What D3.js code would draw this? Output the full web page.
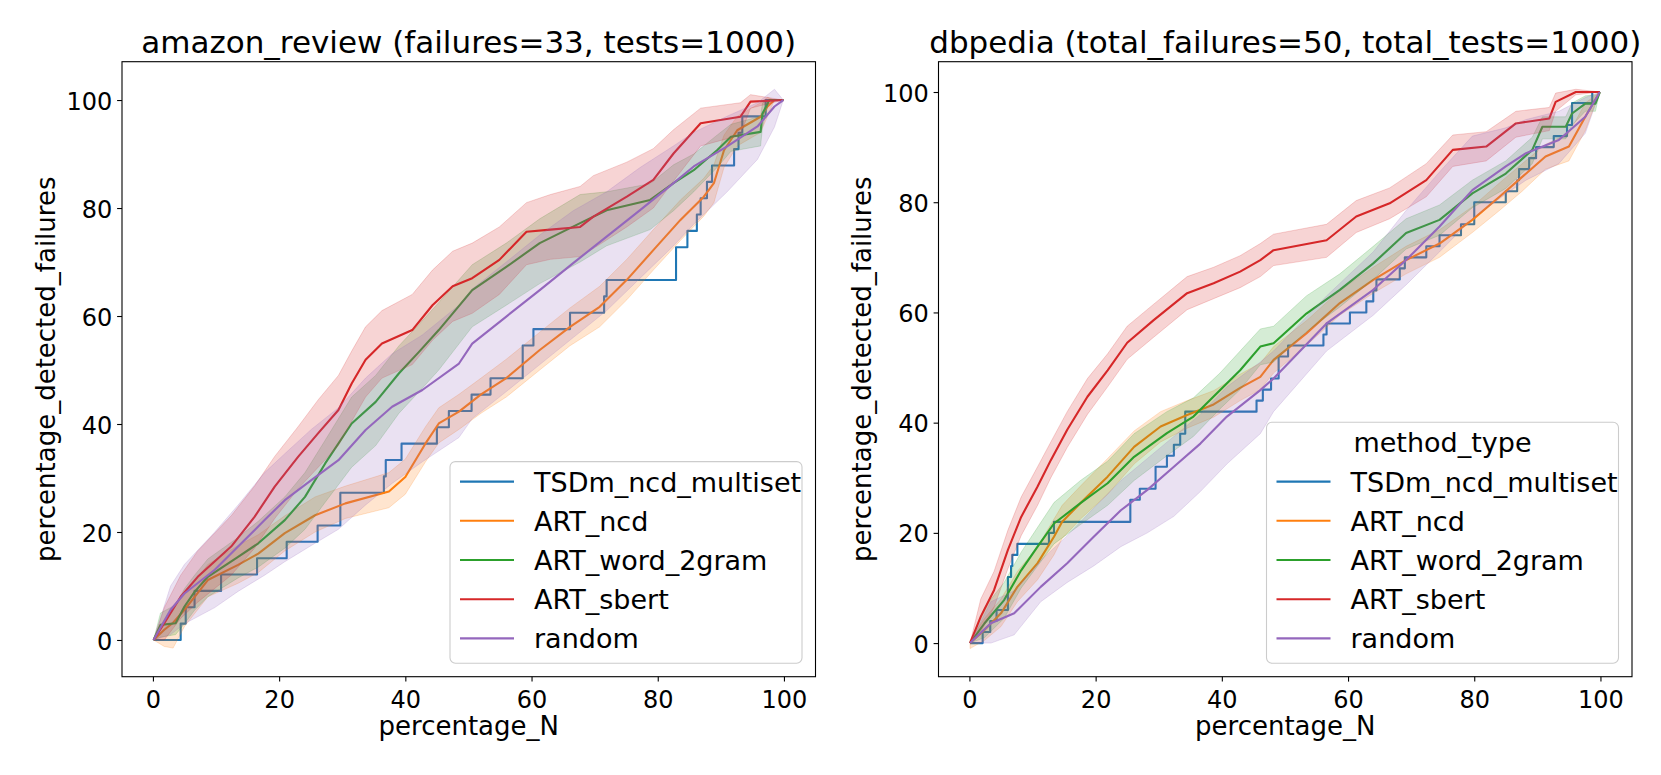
<!DOCTYPE html>
<html>
<head>
<meta charset="utf-8">
<script src="https://cdn.jsdelivr.net/npm/d3@7"></script>
<style>
  body { margin: 0; background: #fff; }
  text { font-family: "DejaVu Sans", sans-serif; fill: #000; }
</style>
</head>
<body>
<svg id="chart" width="1661" height="775"></svg>
<script>
// method names and tab10 colours, in seaborn hue order
const methods = ["TSDm_ncd_multiset", "ART_ncd", "ART_word_2gram", "ART_sbert", "random"];
const colors = ["#1f77b4", "#ff7f0e", "#2ca02c", "#d62728", "#9467bd"];
const xTicks = [0, 20, 40, 60, 80, 100];
const yTicks = [0, 20, 40, 60, 80, 100];

// ---- amazon_review ----
// TSDm is a single run: [x where the value changes, new value]
const amazonTSDm = [[0.1,0],[4.4,3.03],[5.2,6.06],[6.6,9.09],[10.8,12.12],[16.5,15.15],[21.2,18.18],[26.1,21.21],
  [29.7,27.27],[36.6,30.3],[36.9,33.33],[39.4,36.36],[45.0,39.39],[46.9,42.42],[50.5,45.45],[53.5,48.48],
  [58.6,54.55],[60.3,57.58],[66.1,60.61],[71.5,63.64],[71.9,66.67],[82.9,72.73],[84.7,75.76],[86.2,78.79],
  [86.8,81.82],[87.8,84.85],[88.6,87.88],[92.1,90.91],[92.8,93.94],[93.4,96.97],[97.1,100],[99.9,100]];
// [x, mean, lower, upper]
const amazonNcd = [[0.1,0,0,0],[1.8,1.9,-1.2,3.8],[3.2,3.2,-1.5,6],[5.0,5.6,2.5,8.5],[8.7,11.1,8,14],[13.5,13.9,10.5,17.5],
  [16.7,16.0,12.5,19.5],[20.9,19.8,16.5,23],[25.7,23.1,20,26.5],[30.5,25.3,22.5,28.5],[37.4,27.5,24.5,31],
  [40.0,30.2,27,33.5],[43.2,36.4,33,39.5],[45.3,40.1,36.5,43],[48.5,42.3,39,45.5],[52,45.5,42,48.5],
  [56.0,48.5,45,52],[61.3,53.7,50,57],[66.1,58.0,54.5,61.5],[70.8,61.7,58,65.5],[75.1,66.7,63,70.5],
  [79.3,72.2,68.5,76],[83.6,77.8,74,81.5],[87.3,82.1,78.5,85.5],[88.9,84.6,81,88],[90.5,90.7,87.5,93.5],
  [92.6,94.4,91.5,97],[96.3,96.9,94,99.5],[97.4,98.8,97,100.5],[98.5,100,100,100],[99.9,100,100,100]];
const amazonWord = [[0.1,0,0,0],[1.2,2.8,0.5,5],[3.6,3.1,1,6.5],[5.0,6.2,3,9.5],[6.6,8.9,5.5,12],[8.7,11.7,8,15],
  [13.5,15.4,11.5,19],[16.7,17.9,13.5,22],[20.9,22.2,17,26.5],[24.1,26.5,20.5,31],[27.3,32.7,25.5,37],
  [31.5,40.1,32,45],[35.3,44.1,36,49],[39.0,49.4,42,54.5],[42.2,53.4,46,58.5],[45.3,57.4,50,62.5],
  [50.6,64.8,58,69.5],[56.0,69.1,62,73.5],[61.3,73.5,66,78],[67.7,77.2,70,82.5],[71.9,79.6,73,83],
  [78.8,81.5,76,84.5],[82.5,84.6,79.5,88],[85.7,87.0,83,90],[89.4,90.7,87.5,93.5],[91.6,93.2,90.5,95.5],
  [96.3,94.1,91.5,97],[96.6,97.5,95,99.5],[97.7,100,100,100],[99.9,100,100,100]];
const amazonSbert = [[0.1,0,0,0],[1.8,3.1,0,6],[4.4,8.0,4,12],[7.1,11.7,7,16.5],[12.4,17.3,12,23],[16.1,22.8,17,28.5],
  [19.3,28.4,22.5,34],[23.0,33.9,28,39.5],[26.2,38.3,32,44.5],[29.4,42.6,36,49],[31.5,47.5,40.5,53.5],
  [33.7,51.9,45,58],[36.3,54.9,48.5,61],[41.1,57.4,51,64],[44.3,62.0,55.5,68.5],[47.5,65.5,59,72],
  [50.6,67.0,60.5,73.5],[54.9,70.4,64,76.5],[59.2,75.6,69.5,81],[63,76,70.5,82.5],[67.7,76.5,71,84],
  [69.8,78.4,72.5,86],[75.1,82.1,76.5,88.5],[79.3,85.2,80,91],[82.5,90.1,85,94.5],[86.8,95.7,91.5,98.5],
  [93.1,96.9,93.5,99.5],[94.7,99.7,98.5,101],[99.9,100,100,100]];
const amazonRandom = [[0.1,0,0,0],[2.8,5.6,1,10],[5.0,8.6,3,14],[9.8,13.0,6,20],[13.5,17.3,9,25],[17.7,22.2,12,31],
  [20.9,25.9,14.5,34.5],[25.1,29.6,17.5,39],[29.4,33.3,20.5,43],[33.7,38.9,25,48.5],[37.9,43.2,29,53],
  [42.7,46.3,33,56.5],[48.5,51.2,37.5,62],[50.6,54.9,41,65],[56,59.9,46,70],[61.3,64.8,51,75],
  [66.6,69.8,56,79.5],[71.9,74.7,61,83],[77.2,79.6,67,87.5],[82.5,84.6,73,91.5],[85.7,87.7,77,94],
  [91.0,91.4,83,97],[95.8,95.1,89,99.5],[98.5,98.8,95,102],[99.9,100,100,100]];

// ---- dbpedia ----
const dbpediaTSDm = [[0.1,0],[2.1,2],[3.3,4],[4.3,6],[6.1,12],[6.6,14],[6.8,16],[7.6,18],[12.6,20],[13.4,22],
  [25.5,26],[27.0,28],[29.5,32],[31.3,34],[32.4,36],[33.4,38],[34.2,42],[45.5,44],[46.5,46],[47.8,48],
  [49.0,52],[50.5,54],[56.1,56],[56.6,58],[60.3,60],[62.9,62],[64.0,64],[64.5,66],[68.2,68],[69.0,70],
  [72.4,72],[74.5,74],[77.9,76],[80.0,80],[85.0,82],[86.8,84],[87.1,86],[88.7,88],[89.8,90],[92.6,92],
  [94.7,94],[95.5,98],[98.7,100],[99.9,100]];
const dbpediaNcd = [[0.1,0,-1,0.5],[2.4,2.4,0.5,4.5],[5.0,5.4,3,8],[7.6,10.2,7.5,13],[10.8,14.5,11.5,17.5],
  [13.4,19.3,16,22.5],[14.7,22.0,19,25],[17.6,25.4,22.5,28.5],[21.9,30.2,27,33.5],[26.1,35.6,32.5,38.5],
  [30.3,39.3,36.5,42],[34.5,41.4,39,44],[38.7,43.3,41,45.8],[42.9,46.3,44,48.8],[46.1,48.3,46,50.8],
  [48.2,51.4,49,53.8],[53.4,56.2,54,58.5],[58.7,61.7,59.5,64],[64.0,65.9,63.5,68.2],[69.2,69.5,67,72],
  [74.5,72.5,70,75],[79.7,76.8,74.5,79.2],[84.0,81.0,78.5,83.5],[87.6,84.6,82,87],[91.3,88.3,86,90.5],
  [95.0,90.1,87.5,92.5],[97.6,95.5,93,98],[99.9,100,100,100]];
const dbpediaWord = [[0.1,0,0,0],[2.4,3.6,1,6.5],[5.5,7.8,4.5,11],[8.2,13.2,10,16.5],[10.8,17.5,14,21],
  [13.4,21.7,18,25.5],[17.6,25.4,21.5,29.5],[21.9,29.0,25,33],[26.1,33.8,29.5,38],[31.3,38.1,34,42],
  [35.5,41.1,37.5,44.5],[39.7,45.9,42.5,49],[42.9,49.5,46,53],[46.1,53.8,50.5,57],[48.2,54.4,51,57.5],
  [53.4,59.8,56.5,63],[58.7,64.1,61,67],[64.0,68.9,66,72],[69.2,74.4,71.5,77],[74.5,76.8,74,79.5],
  [79.7,81.6,79,84],[85.0,85.2,82.5,87.5],[89.2,89.5,87,91.8],[90.8,93.7,91.5,95.5],[94.5,93.7,91.5,95.5],
  [95.5,96.1,94,98],[97.6,97.9,96.5,99.3],[99.2,97.9,96.5,99.5],[99.9,100,100,100]];
const dbpediaSbert = [[0.1,0,0,0],[1.8,4.8,2,8],[3.9,9.6,6.5,13],[6.1,16.9,13.5,20.5],[8.2,22.9,19.5,26.5],
  [10.8,28.4,25,32],[12.9,33.2,30,36.5],[15.5,38.7,35.5,42],[18.7,44.7,41.5,48],[21.9,49.5,46.5,52.5],
  [25.0,54.5,51.5,57.5],[29.2,58.6,55.5,61.5],[34.5,63.5,60.5,66.5],[38.7,65.3,62.5,68.2],[42.9,67.4,64.5,70.3],
  [46.1,69.5,66.5,72.5],[48.2,71.3,68.5,74.2],[56.6,73.1,70,76],[61.3,77.4,74.5,80.3],[66.6,79.8,77,82.6],
  [72.4,84.0,81,87],[76.6,89.5,86.5,92.2],[81.9,90.1,87.5,92.8],[86.6,94.3,91.8,96.5],[91.9,95.2,93,97.2],
  [92.9,98.2,96.5,99.8],[96.1,100,99.5,100.5],[99.9,100,100,100]];
const dbpediaRandom = [[0.1,0,0,0],[3.4,3.6,0,7.5],[7.1,5.4,1.5,9.5],[11.3,10.2,7.5,15],[15.5,14.5,11,19.5],
  [19.7,19.3,14,24.5],[24.0,24.1,17.5,29.5],[28.2,27.8,20,33.5],[32.4,32.0,23,37.5],[36.6,36.2,27.5,41.5],
  [40.8,41.1,32.5,46.5],[46.1,45.9,38,51],[48.2,48.0,42,53],[56.6,58.0,53,63],[64.0,64.1,59.5,71],
  [69.2,69.5,65,78.5],[74.5,75.6,71,85.5],[79.7,82.2,77,92],[85.0,86.5,81.5,93.5],[88.2,88.9,84,95],
  [93.4,91.3,87,96.5],[97.6,95.5,92.5,99],[99.9,100,100,100]];

const svg = d3.select("#chart");

function drawPanel(p) {
  const g = svg.append("g");
  const x = d3.scaleLinear().domain([-4.9, 105]).range([p.left, p.left + p.width]);
  const y = d3.scaleLinear().domain(p.yDomain).range([p.top + p.height, p.top]);

  svg.append("clipPath").attr("id", "clip-" + p.id)
    .append("rect").attr("x", p.left).attr("y", p.top).attr("width", p.width).attr("height", p.height);
  const plot = g.append("g").attr("clip-path", `url(#clip-${p.id})`);

  const stepLine = d3.line().curve(d3.curveStepAfter).x(d => x(d[0])).y(d => y(d[1]));
  const meanLine = d3.line().x(d => x(d[0])).y(d => y(d[1]));
  const band = d3.area().x(d => x(d[0])).y0(d => y(d[2])).y1(d => y(d[3]));

  plot.append("path").datum(p.steps)
    .attr("d", stepLine).attr("fill", "none")
    .attr("stroke", colors[0]).attr("stroke-width", 2.1).attr("stroke-linejoin", "round");

  p.series.forEach((s, i) => {
    const c = colors[i + 1];
    plot.append("path").datum(s)
      .attr("d", meanLine).attr("fill", "none")
      .attr("stroke", c).attr("stroke-width", 2.1).attr("stroke-linejoin", "round");
    plot.append("path").datum(s)
      .attr("d", band).attr("fill", c).attr("fill-opacity", 0.2)
      .attr("stroke", c).attr("stroke-opacity", 0.2).attr("stroke-width", 1);
  });

  // axes
  const xAxis = g.append("g").attr("transform", `translate(0,${p.top + p.height})`)
    .call(d3.axisBottom(x).tickValues(xTicks).tickSize(4.9).tickSizeOuter(0));
  xAxis.selectAll("text").attr("y", 31.6).attr("dy", null).style("font-size", "24px");
  const yAxis = g.append("g").attr("transform", `translate(${p.left},0)`)
    .call(d3.axisLeft(y).tickValues(yTicks).tickSize(4.9).tickSizeOuter(0));
  yAxis.selectAll("text").attr("x", -9.8).attr("dy", "0.38em").style("font-size", "24px");
  [xAxis, yAxis].forEach(a => {
    a.attr("font-family", null).attr("font-size", null);
    a.select(".domain").remove();
    a.selectAll("line").attr("stroke", "#000").attr("stroke-width", 1.1);
  });

  g.append("rect").attr("x", p.left).attr("y", p.top).attr("width", p.width).attr("height", p.height)
    .attr("fill", "none").attr("stroke", "#000").attr("stroke-width", 1.1);

  g.append("text").attr("x", p.left + p.width / 2).attr("y", 53)
    .attr("text-anchor", "middle").style("font-size", "31px").text(p.title);
  g.append("text").attr("x", p.left + p.width / 2).attr("y", 735)
    .attr("text-anchor", "middle").style("font-size", "26px").text("percentage_N");
  g.append("text")
    .attr("transform", `translate(${p.left - 67.5},${p.top + p.height / 2}) rotate(-90)`)
    .attr("text-anchor", "middle").style("font-size", "26px").text("percentage_detected_failures");

  // legend, lower right
  const fs = 27;
  const lgRight = p.left + p.width - 13.5, lgBottom = p.top + p.height - 13.5;
  const lgLeft = lgRight - 352;
  const rowH = 39.2;
  const lgTop = lgBottom - 201.6 - (p.legendTitle ? 39.4 : 0);
  const lg = g.append("g");
  lg.append("rect").attr("x", lgLeft).attr("y", lgTop)
    .attr("width", lgRight - lgLeft).attr("height", lgBottom - lgTop)
    .attr("rx", 5.4).attr("fill", "#fff").attr("fill-opacity", 0.8)
    .attr("stroke", "#cccccc").attr("stroke-width", 1.1);
  let rowY = lgTop + 20;
  if (p.legendTitle) {
    lg.append("text").attr("x", (lgLeft + lgRight) / 2).attr("y", lgTop + 29.4)
      .attr("text-anchor", "middle").style("font-size", fs + "px").text(p.legendTitle);
    rowY += 39.4;
  }
  methods.forEach((m, i) => {
    const yy = rowY + i * rowH;
    lg.append("line").attr("x1", lgLeft + 10).attr("x2", lgLeft + 64)
      .attr("y1", yy).attr("y2", yy).attr("stroke", colors[i]).attr("stroke-width", 2.1);
    lg.append("text").attr("x", lgLeft + 84).attr("y", yy + 10)
      .style("font-size", fs + "px").text(m);
  });
}

drawPanel({
  id: "amazon", left: 122, top: 61.7, width: 693.5, height: 615, yDomain: [-6.8, 107.1],
  title: "amazon_review (failures=33, tests=1000)",
  steps: amazonTSDm, series: [amazonNcd, amazonWord, amazonSbert, amazonRandom], legendTitle: null
});
drawPanel({
  id: "dbpedia", left: 938.5, top: 61.7, width: 693.5, height: 615, yDomain: [-6.1, 105.5],
  title: "dbpedia (total_failures=50, total_tests=1000)",
  steps: dbpediaTSDm, series: [dbpediaNcd, dbpediaWord, dbpediaSbert, dbpediaRandom], legendTitle: "method_type"
});
</script>
</body>
</html>
